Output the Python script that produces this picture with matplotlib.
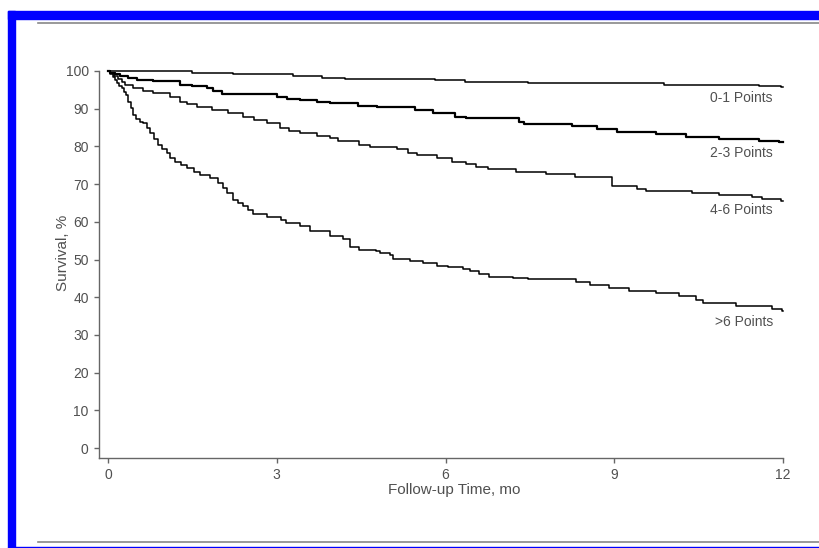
import matplotlib
matplotlib.use('Agg')
import matplotlib.pyplot as plt
from matplotlib.patches import Rectangle
from matplotlib.lines import Line2D

# Kaplan-Meier step curves (months, survival %)
t01 = [0, 1.49, 2.22, 3.28, 3.80, 4.21, 5.82, 6.34, 7.07, 7.46, 9.89, 11.57, 11.97, 12.0]
s01 = [100, 99.6, 99.1, 98.6, 98.1, 97.9, 97.5, 97.2, 97.0, 96.7, 96.4, 96.1, 95.8, 95.8]

t23 = [0, 0.04, 0.12, 0.21, 0.35, 0.51, 0.80, 1.28, 1.49, 1.76, 1.86, 2.02, 3.00, 3.18, 3.41,
       3.71, 3.94, 4.44, 4.78, 5.45, 5.77, 6.16, 6.37, 7.31, 7.40, 8.25, 8.70, 9.05, 9.75,
       10.28, 10.86, 11.57, 11.93, 12.0]
s23 = [100, 99.6, 99.2, 98.7, 98.1, 97.6, 97.3, 96.4, 96.1, 95.4, 94.7, 93.9, 93.2, 92.7, 92.3,
       91.7, 91.4, 90.8, 90.4, 89.7, 88.9, 87.9, 87.5, 86.6, 86.0, 85.4, 84.5, 83.9, 83.3,
       82.6, 82.0, 81.4, 81.1, 81.1]

t46 = [0, 0.04, 0.10, 0.18, 0.24, 0.30, 0.44, 0.62, 0.80, 1.10, 1.28, 1.40, 1.58, 1.85, 2.13,
       2.40, 2.60, 2.82, 3.05, 3.22, 3.41, 3.71, 3.94, 4.08, 4.47, 4.65, 5.13, 5.33, 5.49,
       5.84, 6.12, 6.37, 6.55, 6.75, 7.26, 7.79, 8.30, 8.96, 9.41, 9.57, 10.39, 10.86, 11.45,
       11.63, 11.97, 12.0]
s46 = [100, 99.5, 98.8, 98.0, 97.1, 96.3, 95.6, 94.8, 94.1, 93.2, 91.9, 91.2, 90.5, 89.6, 88.8,
       87.9, 87.0, 86.1, 85.0, 84.2, 83.5, 82.8, 82.3, 81.4, 80.4, 79.9, 79.3, 78.2, 77.7,
       76.8, 75.9, 75.2, 74.6, 74.0, 73.1, 72.6, 71.9, 69.5, 68.6, 68.2, 67.6, 67.1, 66.7,
       66.0, 65.5, 65.5]

t6 = [0, 0.04, 0.08, 0.12, 0.16, 0.20, 0.24, 0.28, 0.32, 0.36, 0.40, 0.45, 0.50, 0.56, 0.63,
      0.69, 0.75, 0.82, 0.89, 0.96, 1.04, 1.11, 1.19, 1.30, 1.40, 1.52, 1.63, 1.81, 1.96,
      2.04, 2.11, 2.22, 2.31, 2.40, 2.49, 2.58, 2.82, 3.08, 3.17, 3.41, 3.59, 3.94, 4.18,
      4.30, 4.47, 4.77, 4.83, 5.01, 5.06, 5.36, 5.60, 5.84, 6.04, 6.31, 6.43, 6.60, 6.78,
      7.20, 7.46, 8.32, 8.56, 8.91, 9.27, 9.74, 10.15, 10.45, 10.57, 11.16, 11.81, 11.98, 12.0]
s6 = [100, 99.2, 98.4, 97.6, 96.9, 96.1, 95.4, 94.5, 93.6, 91.9, 90.2, 88.3, 87.4, 86.6, 86.1,
      84.8, 83.5, 82.0, 80.4, 79.3, 78.2, 77.0, 75.9, 75.0, 74.2, 73.3, 72.4, 71.6, 70.2,
      68.9, 67.6, 65.8, 65.0, 64.2, 63.2, 62.2, 61.4, 60.5, 59.6, 59.0, 57.6, 56.2, 55.4,
      53.4, 52.5, 52.3, 51.6, 51.2, 50.1, 49.7, 49.1, 48.4, 48.1, 47.4, 47.0, 46.2, 45.4,
      45.0, 44.7, 44.1, 43.2, 42.4, 41.6, 41.0, 40.3, 39.3, 38.4, 37.7, 36.8, 36.4, 36.4]

curves = [(t01, s01, '0-1 Points', 92.8, 1.1),
          (t23, s23, '2-3 Points', 78.2, 1.6),
          (t46, s46, '4-6 Points', 63.1, 1.1),
          (t6, s6, '>6 Points', 33.4, 1.1)]

xticks = [0, 3, 6, 9, 12]
yticks = [0, 10, 20, 30, 40, 50, 60, 70, 80, 90, 100]

plt.rcParams['font.family'] = ['Liberation Sans', 'DejaVu Sans']
gray = '#505050'

fig = plt.figure(figsize=(8.19, 5.48), dpi=100)
W, H = 819, 548

# Frame: blue bands and gray rules
fig.patches.append(Rectangle((8 / W, 1 - 19 / H), 1, 8 / H, transform=fig.transFigure,
                             color='#0000ff', zorder=0))
fig.patches.append(Rectangle((8 / W, 1 - 547 / H), 7 / W, 536 / H, transform=fig.transFigure,
                             color='#0000ff', zorder=0))
fig.patches.append(Rectangle((8 / W, 0), 1, 1.2 / H, transform=fig.transFigure,
                             color='#0000ff', zorder=0))
fig.lines.append(Line2D([38 / W, 1], [1 - 22.5 / H] * 2, transform=fig.transFigure,
                        color='#888888', lw=1.2))
fig.lines.append(Line2D([38 / W, 1], [1 - 542 / H] * 2, transform=fig.transFigure,
                        color='#888888', lw=1.2))

ax = fig.add_axes([99 / W, 1 - 458 / H, (783 - 99) / W, (458 - 71) / H])

for t, s, name, ylab, lw in curves:
    ax.step(t, s, where='post', color='black', lw=lw, clip_on=False)
    ax.text(11.82, ylab, name, ha='right', va='center', fontsize=10, color=gray)

ax.set_xlim(-0.16, 12)
ax.set_ylim(-2.65, 100)
ax.set_xticks(xticks)
ax.set_yticks(yticks)
for side in ['top', 'right']:
    ax.spines[side].set_visible(False)
for side in ['left', 'bottom']:
    ax.spines[side].set_color('#666666')
    ax.spines[side].set_linewidth(1.0)
ax.tick_params(direction='out', length=3.4, width=1, color='#666666',
               labelcolor=gray, labelsize=10, pad=4)
ax.set_xlabel('Follow-up Time, mo', fontsize=11, color=gray)
ax.xaxis.set_label_coords(0.52, -0.064)
ax.set_ylabel('Survival, %', fontsize=11, color=gray)
ax.yaxis.set_label_coords(-0.043, 0.53)

fig.savefig('out.png', dpi=100)
